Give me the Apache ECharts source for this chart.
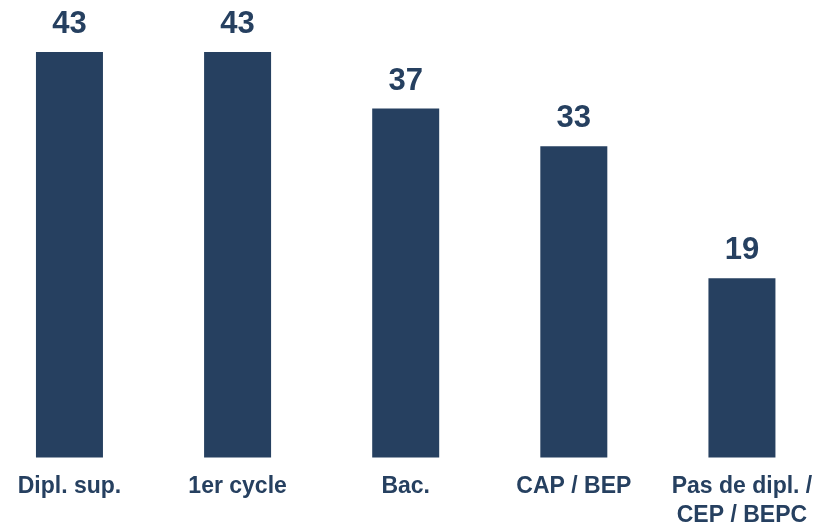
<!DOCTYPE html>
<html>
<head>
<meta charset="utf-8">
<script src="https://cdn.jsdelivr.net/npm/echarts@6/dist/echarts.min.js"></script>
<style>
  html, body { margin: 0; padding: 0; background: #fff; }
  #chart { width: 818px; height: 525px; }
</style>
</head>
<body>
<div id="chart"></div>
<script>
const categories = ['Dipl. sup.', '1er cycle', 'Bac.', 'CAP / BEP', 'Pas de dipl. /\nCEP / BEPC'];
const values = [43, 43, 37, 33, 19];

const navy = '#264060';
const font = '"Liberation Sans", Arial, sans-serif';

const chart = echarts.init(document.getElementById('chart'));
chart.setOption({
  animation: false,
  grid: {
    left: -14.6, width: 840.6, top: 52, bottom: 67.5,
    containLabel: false,
    outerBoundsMode: 'none'
  },
  xAxis: {
    type: 'category',
    data: categories,
    axisLine: { show: false },
    axisTick: { show: false },
    axisLabel: {
      interval: 0,
      margin: 15,
      color: navy,
      fontFamily: font,
      fontWeight: 'bold',
      fontSize: 23,
      lineHeight: 29,
      hideOverlap: false
    }
  },
  yAxis: {
    type: 'value',
    min: 0,
    max: 43,
    show: false,
    splitLine: { show: false }
  },
  series: [{
    type: 'bar',
    data: values,
    barWidth: 67,
    itemStyle: { color: navy },
    label: {
      show: true,
      position: 'top',
      distance: 12,
      color: navy,
      fontFamily: font,
      fontWeight: 'bold',
      fontSize: 31
    }
  }]
});
</script>
</body>
</html>
